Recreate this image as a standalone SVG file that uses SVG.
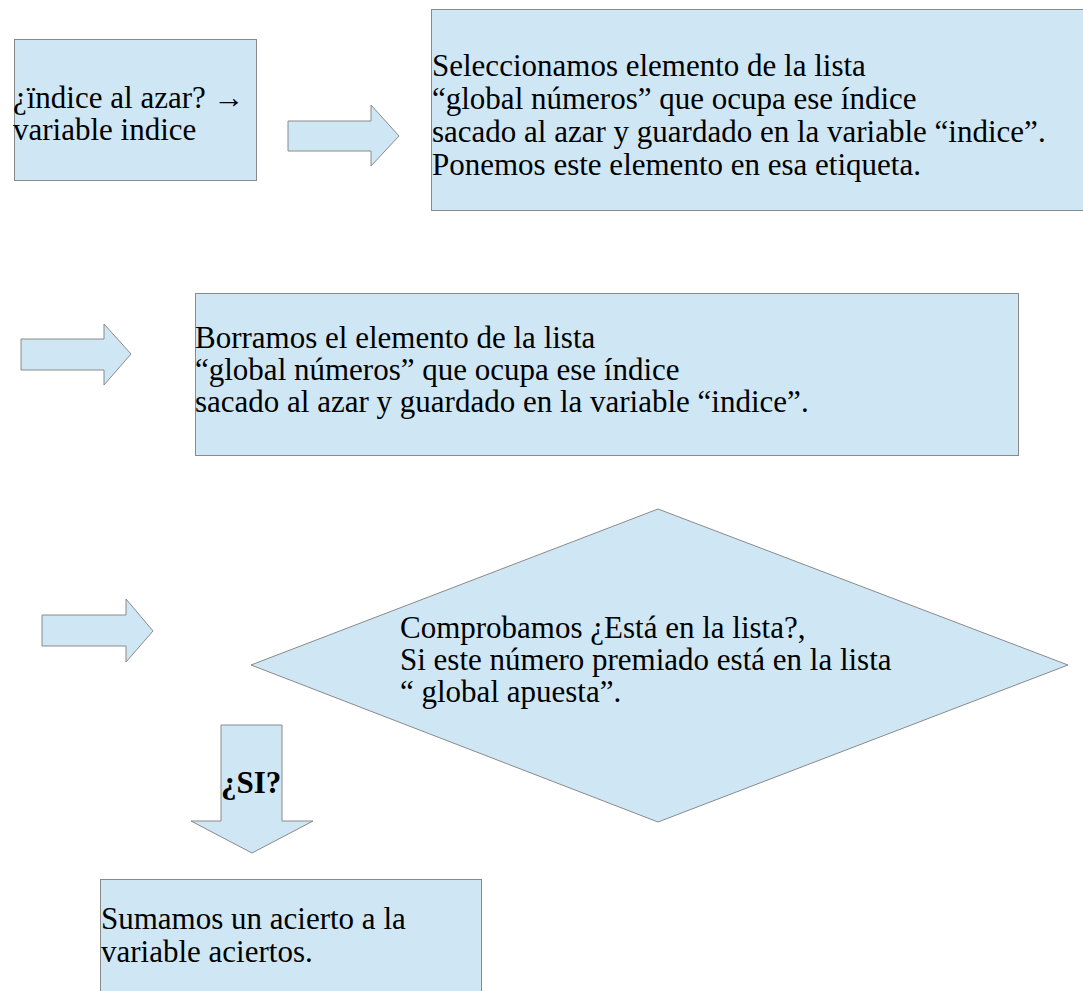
<svg xmlns="http://www.w3.org/2000/svg" width="1083" height="991" viewBox="0 0 1083 991">
<style>
.shape{fill:#cfe7f5;stroke:#8a8a8a;stroke-width:1}
.t{font-family:"Liberation Serif","Times New Roman",serif;font-size:31px;fill:#000}
.b{font-weight:bold}
</style>
<rect width="1083" height="991" fill="#ffffff"/>
<g id="connectors">
<polygon id="arrow1" class="shape" points="288,121 371,121 371,105 399,136 371,166 371,151 288,151"/>
<polygon id="arrow2" class="shape" points="21,339 104,339 104,324 131,354 104,385 104,370 21,370"/>
<polygon id="arrow3" class="shape" points="42,615 126,615 126,599 153,631 126,662 126,646 42,646"/>
<g id="arrow-si">
<polygon class="shape" points="221,725 282,725 282,821 313,821 252,853 191,821 221,821"/>
<text class="t b" x="221" y="793">¿SI?</text>
</g>
</g>
<g id="node-indice">
<rect class="shape" x="14.5" y="39.5" width="242" height="141"/>
<text class="t" x="13" y="108">¿ïndice al azar? →</text>
<text class="t" x="13" y="140">variable indice</text>
</g>
<g id="node-seleccionamos">
<rect class="shape" x="431.5" y="9.5" width="660" height="201"/>
<text class="t" x="432" y="76">Seleccionamos elemento de la lista</text>
<text class="t" x="432" y="109">“global números” que ocupa ese índice</text>
<text class="t" x="432" y="142">sacado al azar y guardado en la variable “indice”.</text>
<text class="t" x="432" y="175">Ponemos este elemento en esa etiqueta.</text>
</g>
<g id="node-borramos">
<rect class="shape" x="195.5" y="293.5" width="823" height="162"/>
<text class="t" x="195" y="348">Borramos el elemento de la lista</text>
<text class="t" x="195" y="380">“global números” que ocupa ese índice</text>
<text class="t" x="195" y="412">sacado al azar y guardado en la variable “indice”.</text>
</g>
<g id="node-comprobamos">
<polygon class="shape" points="251,665 658,509 1068,665 658,822"/>
<text class="t" x="400" y="638">Comprobamos ¿Está en la lista?,</text>
<text class="t" x="400" y="670">Si este número premiado está en la lista</text>
<text class="t" x="400" y="702">“ global apuesta”.</text>
</g>
<g id="node-sumamos">
<rect class="shape" x="100.5" y="879.5" width="381" height="130"/>
<text class="t" x="101" y="929">Sumamos un acierto a la</text>
<text class="t" x="101" y="962">variable aciertos.</text>
</g>
</svg>
